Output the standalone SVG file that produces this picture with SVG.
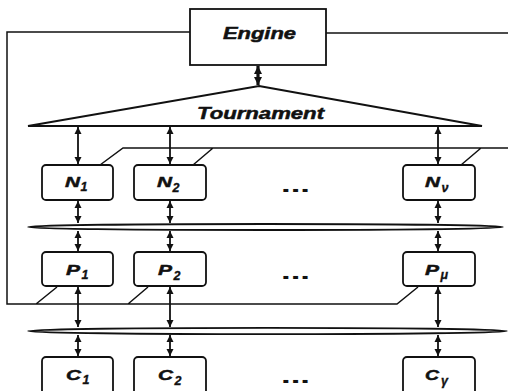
<svg xmlns="http://www.w3.org/2000/svg" width="508" height="391" viewBox="0 0 508 391">
<defs>
<marker id="ah" viewBox="0 0 10 10" refX="10" refY="5" markerWidth="4" markerHeight="4" orient="auto-start-reverse" markerUnits="strokeWidth">
<path d="M0,0 L10,5 L0,10 z" fill="#111"/>
</marker>
<marker id="ahb" viewBox="0 0 10 10" refX="10" refY="5" markerWidth="2.5" markerHeight="2.5" orient="auto-start-reverse" markerUnits="strokeWidth">
<path d="M0,0 L10,5 L0,10 z" fill="#111"/>
</marker>
</defs>
<style>
.box{fill:#fff;stroke:#111;stroke-width:1.8}
.ln{fill:none;stroke:#111;stroke-width:1.5}
.ar{fill:none;stroke:#111;stroke-width:1.8;marker-start:url(#ah);marker-end:url(#ah)}
.t{font-family:"Liberation Sans",Arial,sans-serif;font-weight:bold;font-style:italic;fill:#111;stroke:#111;stroke-width:0.5}
.m{font-size:15.5px}
.s{font-size:12.5px;stroke-width:0.35}
.d{font-family:"Liberation Sans",Arial,sans-serif;font-weight:bold;font-size:20px;fill:#111}
</style>
<rect width="508" height="391" fill="#fff"/>
<g id="connectors">
<path class="ln" d="M190,32 H7 V304 H397 L418,287 M36,304 L57,287 M128,304 L148,287"/>
<path class="ln" d="M326,33 H508"/>
<path class="ln" d="M508,148 H123 L100,165 M213,148 L193,165 M481,148 L461,165"/>
<line x1="258" y1="66" x2="258" y2="85" stroke="#111" stroke-width="3.2" marker-start="url(#ahb)" marker-end="url(#ahb)"/>
<line class="ar" x1="78" y1="127" x2="78" y2="164"/>
<line class="ar" x1="170" y1="127" x2="170" y2="164"/>
<line class="ar" x1="438" y1="127" x2="438" y2="164"/>
<line class="ar" x1="78" y1="201" x2="78" y2="223"/>
<line class="ar" x1="170" y1="201" x2="170" y2="223"/>
<line class="ar" x1="438" y1="201" x2="438" y2="223"/>
<line class="ar" x1="78" y1="231" x2="78" y2="251"/>
<line class="ar" x1="170" y1="231" x2="170" y2="251"/>
<line class="ar" x1="438" y1="231" x2="438" y2="251"/>
<line class="ar" x1="78" y1="287" x2="78" y2="327"/>
<line class="ar" x1="170" y1="287" x2="170" y2="327"/>
<line class="ar" x1="438" y1="287" x2="438" y2="327"/>
<line class="ar" x1="78" y1="335" x2="78" y2="356"/>
<line class="ar" x1="170" y1="335" x2="170" y2="356"/>
<line class="ar" x1="438" y1="335" x2="438" y2="356"/>
</g>
<g id="engine">
<rect class="box" x="190" y="9" width="136" height="56"/>
<text class="t" x="223" y="38.5" font-size="16.5" textLength="73" lengthAdjust="spacingAndGlyphs">Engine</text>
</g>
<g id="tournament">
<path class="box" d="M259,86 L482,126 L28,126 Z"/>
<text class="t" x="197" y="118.5" font-size="17" textLength="127" lengthAdjust="spacingAndGlyphs">Tournament</text>
</g>
<g id="bus1">
<ellipse class="box" cx="265.5" cy="227" rx="237.5" ry="3"/>
</g>
<g id="bus2">
<ellipse class="box" cx="267.5" cy="331" rx="239.5" ry="3.2"/>
</g>
<g id="N1">
<rect class="box" x="42" y="165" width="71" height="35" rx="4"/>
<text class="t m" x="65" y="187" textLength="15" lengthAdjust="spacingAndGlyphs">N</text>
<text class="t s" x="80.5" y="191">1</text>
</g>
<g id="N2">
<rect class="box" x="134" y="165" width="72" height="35" rx="4"/>
<text class="t m" x="157" y="187" textLength="15" lengthAdjust="spacingAndGlyphs">N</text>
<text class="t s" x="172.5" y="192">2</text>
</g>
<g id="Nnu">
<rect class="box" x="403" y="165" width="72" height="35" rx="4"/>
<text class="t m" x="425" y="187" textLength="15" lengthAdjust="spacingAndGlyphs">N</text>
<text class="t s" x="441.5" y="192">ν</text>
</g>
<text class="d" x="281" y="192" textLength="29" lengthAdjust="spacingAndGlyphs">...</text>
<g id="P1">
<rect class="box" x="42" y="252" width="71" height="34" rx="4"/>
<text class="t m" x="66" y="275" textLength="14" lengthAdjust="spacingAndGlyphs">P</text>
<text class="t s" x="81.5" y="279">1</text>
</g>
<g id="P2">
<rect class="box" x="134" y="252" width="72" height="34" rx="4"/>
<text class="t m" x="158" y="275" textLength="14" lengthAdjust="spacingAndGlyphs">P</text>
<text class="t s" x="173.5" y="280">2</text>
</g>
<g id="Pmu">
<rect class="box" x="403" y="252" width="72" height="34" rx="4"/>
<text class="t m" x="425" y="275" textLength="14" lengthAdjust="spacingAndGlyphs">P</text>
<text class="t s" x="440.5" y="279">μ</text>
</g>
<text class="d" x="281" y="279" textLength="29" lengthAdjust="spacingAndGlyphs">...</text>
<g id="C1">
<rect class="box" x="42" y="357" width="71" height="40" rx="4"/>
<text class="t m" x="66" y="380" textLength="15" lengthAdjust="spacingAndGlyphs">C</text>
<text class="t s" x="82.5" y="384">1</text>
</g>
<g id="C2">
<rect class="box" x="134" y="357" width="72" height="40" rx="4"/>
<text class="t m" x="158" y="380" textLength="15" lengthAdjust="spacingAndGlyphs">C</text>
<text class="t s" x="174.5" y="385">2</text>
</g>
<g id="Cgamma">
<rect class="box" x="403" y="357" width="72" height="40" rx="4"/>
<text class="t m" x="425" y="380" textLength="14" lengthAdjust="spacingAndGlyphs">C</text>
<text class="t s" x="441" y="385">γ</text>
</g>
<text class="d" x="281" y="383" textLength="29" lengthAdjust="spacingAndGlyphs">...</text>
</svg>
